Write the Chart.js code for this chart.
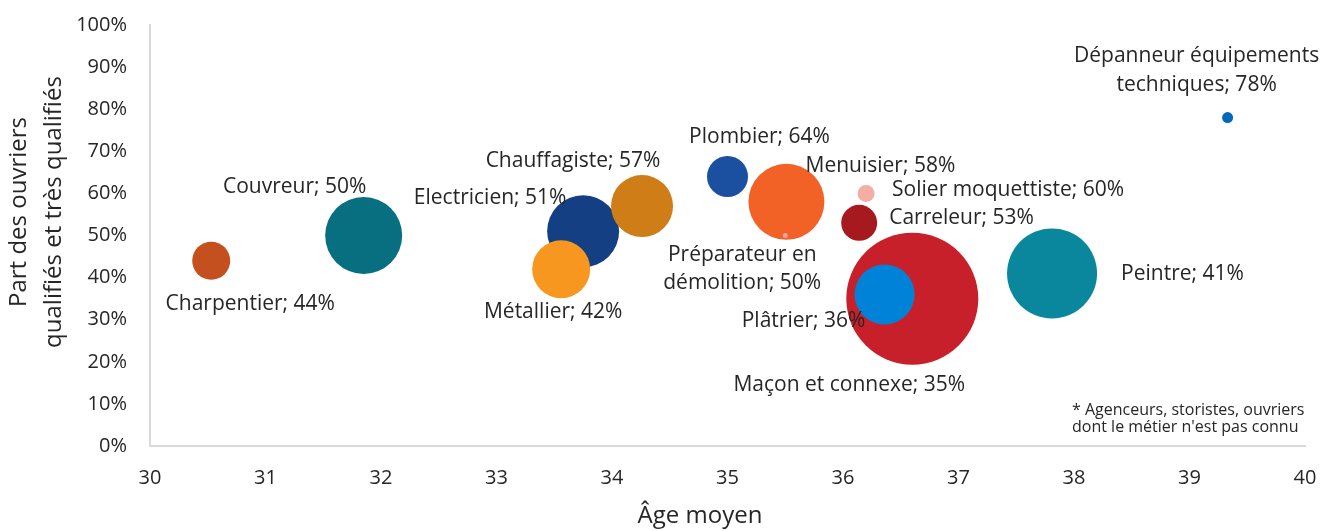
<!DOCTYPE html>
<html lang="fr">
<head>
<meta charset="utf-8">
<title>Âge moyen et qualification des ouvriers</title>
<script src="https://cdn.jsdelivr.net/npm/chart.js@4.4.1/dist/chart.umd.min.js"></script>
<style>
  html, body { margin: 0; padding: 0; background: #fff; }
  #wrap { width: 1325px; height: 531px; }
</style>
</head>
<body>
<div id="wrap"><canvas id="bulles"></canvas></div>
<script>
// métiers, âge moyen, part des ouvriers qualifiés (%), taille de bulle (px)
const metiers = [
  "Charpentier", "Couvreur", "Electricien", "Chauffagiste", "Métallier",
  "Plombier", "Menuisier", "Préparateur en\ndémolition", "Solier moquettiste",
  "Carreleur", "Maçon et connexe", "Plâtrier", "Peintre",
  "Dépanneur équipements\ntechniques"
];
const ages = [30.53, 31.85, 33.75, 34.26, 33.56, 35.0, 35.51, 35.5, 36.2, 36.14, 36.6, 36.36, 37.81, 39.33];
const qualifies = [44, 50, 51, 57, 42, 64, 58, 50, 60, 53, 35, 36, 41, 78];
const tailles = [19, 38.5, 36, 31, 29, 20.5, 38, 2.5, 8.5, 18, 66, 30, 45, 5.5];
const couleurs = [
  "#c44f1f", "#086f80", "#143f82", "#ce7d17", "#f7971f",
  "#1b4fa0", "#f26226", "#e3a3a8", "#f4aea3",
  "#a5191f", "#c8202a", "#0082d9", "#0a879d", "#0069b8"
];
const xTicks = [30, 31, 32, 33, 34, 35, 36, 37, 38, 39, 40];
const yTicks = [0, 10, 20, 30, 40, 50, 60, 70, 80, 90, 100];

// placement des étiquettes : décalage x, décalage y, alignement
const placements = [
  [39, 43, "center"], [-69, -48, "center"], [-93, -33, "center"], [-69, -45, "center"],
  [-8, 43, "center"], [32, -40, "center"], [94, -36, "center"], [-43, 19.5, "center"],
  [26, -3.5, "left"], [30, -4.5, "left"], [-63, 86, "center"], [-81, 27, "center"],
  [69, 1, "left"], [-31, -61.5, "center"]
];

const police = '"Open Sans", "Noto Sans", sans-serif';
const gris = "#d9d9d9";
const texte = "#262626";

const etiquettes = {
  id: "etiquettes",
  afterDatasetsDraw(chart) {
    const ctx = chart.ctx;
    const meta = chart.getDatasetMeta(0);
    ctx.save();
    ctx.fillStyle = texte;
    ctx.textBaseline = "middle";
    ctx.font = "21px " + police;
    meta.data.forEach((pt, i) => {
      const [dx, dy, align] = placements[i];
      const lignes = (metiers[i] + "; " + qualifies[i] + "%").split("\n");
      ctx.textAlign = align;
      lignes.forEach((l, k) => ctx.fillText(l, pt.x + dx, pt.y + dy + k * 28.5));
    });

    // note de bas de graphique
    ctx.font = "16px " + police;
    ctx.textAlign = "left";
    ctx.fillText("* Agenceurs, storistes, ouvriers", 1072, 410);
    ctx.fillText("dont le métier n'est pas connu", 1072, 427);

    // titres des axes
    ctx.font = "24px " + police;
    ctx.textAlign = "center";
    ctx.fillText("Âge moyen", 700, 516);
    ctx.translate(0, 212);
    ctx.rotate(-Math.PI / 2);
    ctx.fillText("Part des ouvriers", 0, 19);
    ctx.fillText("qualifiés et très qualifiés", 0, 54.5);
    ctx.restore();
  }
};

const points = ages.map((a, i) => ({ x: a, y: qualifies[i], r: tailles[i] }));

new Chart(document.getElementById("bulles"), {
  type: "bubble",
  data: {
    datasets: [{
      data: points,
      backgroundColor: couleurs,
      borderWidth: 0,
      hoverBorderWidth: 0
    }]
  },
  options: {
    responsive: true,
    maintainAspectRatio: false,
    animation: false,
    events: [],
    layout: { autoPadding: false, padding: { top: 25, right: 20, left: 0, bottom: 0 } },
    plugins: {
      legend: { display: false },
      tooltip: { enabled: false }
    },
    scales: {
      x: {
        type: "linear",
        min: 30,
        max: 40,
        afterFit(scale) {
          scale.height = 85;
          scale.paddingLeft = 0;
          scale.paddingRight = 0;
        },
        afterBuildTicks(scale) { scale.ticks = xTicks.map(v => ({ value: v })); },
        grid: { display: false, drawTicks: false },
        border: { display: true, color: gris, width: 2 },
        ticks: { padding: 20, color: texte, font: { family: police, size: 20 } }
      },
      y: {
        min: 0,
        max: 100,
        afterFit(scale) {
          scale.width = 150;
          scale.paddingTop = 0;
          scale.paddingBottom = 0;
        },
        afterBuildTicks(scale) { scale.ticks = yTicks.map(v => ({ value: v })); },
        grid: { display: false, drawTicks: false },
        border: { display: true, color: gris, width: 2 },
        ticks: {
          padding: 23,
          color: texte,
          font: { family: police, size: 20 },
          callback: v => v + "%"
        }
      }
    }
  },
  plugins: [etiquettes]
});
</script>
</body>
</html>
